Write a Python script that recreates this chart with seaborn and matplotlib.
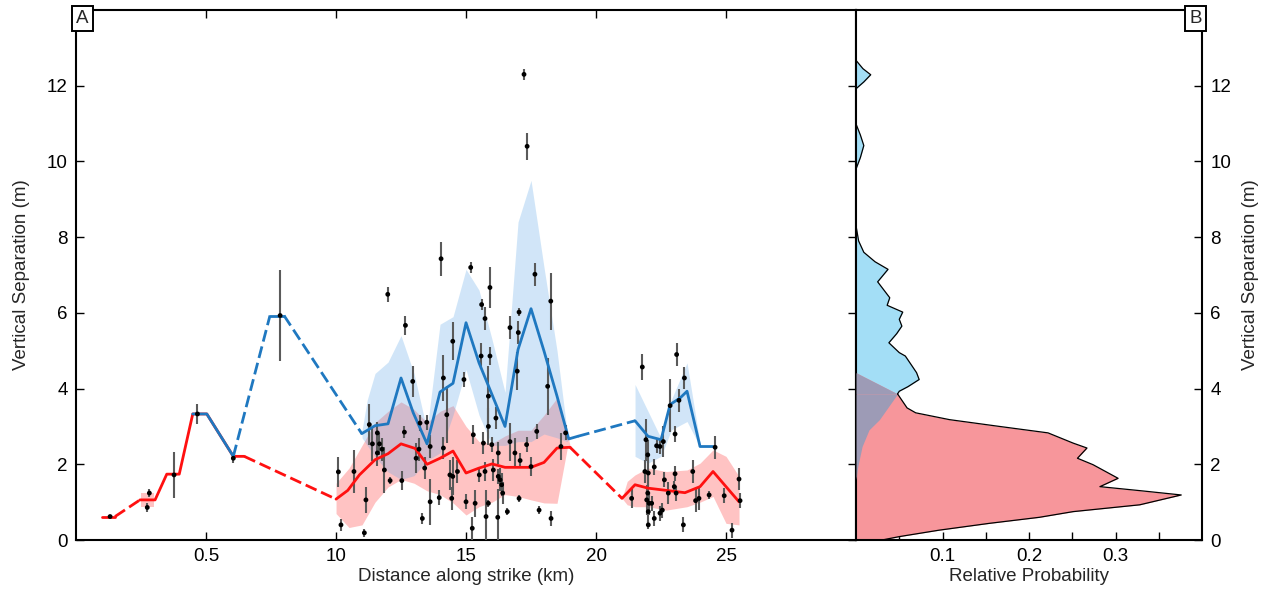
import numpy as np
import matplotlib
matplotlib.use("Agg")
import matplotlib.pyplot as plt
import seaborn as sns

# ---------------- panel A data ----------------
# mean vertical separation, red (lower) profile; dashed = interpolated gaps
red_x = [1.0, 1.5, 2.46, 3.04, 3.49, 3.97, 4.49, 5.03, 6.05, 6.47,
         10.0, 10.45, 10.9, 11.5, 12.0, 12.5, 13.04, 13.5, 14.0, 14.5, 15.0,
         15.5, 16.0, 16.5, 17.0, 17.5, 18.0, 18.5, 19.0,
         21.0, 21.5, 22.0, 22.72, 23.42, 24.0, 24.5, 25.0, 25.5]
red_y = [0.62, 0.62, 1.06, 1.06, 1.74, 1.74, 3.33, 3.33, 2.21, 2.21,
         1.08, 1.31, 1.72, 2.12, 2.28, 2.54, 2.42, 2.0, 2.16, 2.35, 1.77,
         1.90, 2.01, 1.92, 1.92, 1.92, 2.05, 2.43, 2.45,
         1.10, 1.46, 1.37, 1.31, 1.25, 1.41, 1.81, 1.41, 1.01]
red_dashed = [1, 9, 28]

# upper (blue) profile
blue_x = [4.49, 5.03, 6.05, 7.46, 8.0, 10.99, 11.5, 12.0, 12.5, 12.97, 13.5,
          14.0, 14.5, 15.0, 15.5, 16.0, 16.5, 17.0, 17.5, 18.0, 18.5, 18.95,
          19.3, 21.5, 22.0, 22.5, 22.85, 23.23, 23.5, 24.0, 24.5]
blue_y = [3.33, 3.33, 2.21, 5.93, 5.93, 2.81, 3.02, 3.07, 4.28, 3.36, 2.54,
          3.91, 4.14, 5.74, 4.68, 3.84, 3.0, 5.03, 6.11, 4.99, 3.8, 2.67,
          2.74, 3.15, 2.74, 2.65, 3.58, 3.75, 3.93, 2.47, 2.47]
blue_dashed = [2, 4, 22]

# uncertainty envelopes
red_band_x = [[2.5, 3.0],
              [10.0, 10.5, 11.0, 11.5, 12.0, 12.5, 13.0, 13.5, 14.0, 14.5, 15.0,
               15.5, 16.0, 16.5, 17.0, 17.5, 18.0, 18.5, 18.9, 19.0],
              [21.0, 21.2, 21.5, 22.0, 22.7, 23.5, 24.0, 24.5, 25.0, 25.5]]
red_band_hi = [[1.25, 1.25],
               [1.5, 1.9, 2.5, 3.1, 3.4, 3.65, 3.45, 3.1, 3.4, 3.55, 3.0,
                2.6, 2.55, 2.75, 2.9, 2.9, 3.3, 3.75, 2.8, 2.5],
               [1.1, 1.55, 1.72, 1.9, 1.81, 1.85, 2.03, 2.38, 2.21, 1.68]]
red_band_lo = [[0.87, 0.87],
               [0.7, 0.33, 0.4, 1.0, 1.4, 1.6, 1.5, 1.3, 1.2, 0.98, 0.66,
                0.88, 1.0, 1.2, 1.15, 1.06, 0.98, 0.97, 2.45, 2.4],
               [1.1, 0.93, 0.88, 0.88, 0.79, 0.88, 1.0, 1.15, 0.44, 0.40]]

blue_band_x = [[11.0, 11.2, 11.5, 12.0, 12.5, 13.0, 13.5, 14.0, 14.5, 15.0,
                15.5, 16.0, 16.5, 17.0, 17.5, 18.0, 18.5, 18.9],
               [21.5, 22.0, 22.5, 22.9, 23.5, 24.0]]
blue_band_hi = [[2.9, 3.7, 4.4, 4.7, 5.4, 4.4, 2.9, 5.7, 5.9, 7.15,
                 6.6, 5.3, 3.9, 8.4, 9.5, 7.2, 5.0, 2.8],
                [4.11, 3.4, 2.69, 3.71, 4.68, 2.56]]
blue_band_lo = [[2.7, 2.5, 2.2, 1.8, 1.6, 1.7, 2.1, 2.3, 3.3, 4.5,
                 3.3, 2.5, 2.5, 2.6, 2.6, 2.8, 2.7, 2.6],
                [2.21, 2.03, 2.21, 2.91, 3.13, 2.47]]

# individual measurements: distance (km), separation (m), 1-sigma (m)
pt_x = [1.31, 2.74, 2.82, 3.77, 4.67, 6.05, 7.85, 10.09, 10.19, 10.69, 11.09,
        11.15, 11.28, 11.40, 11.59, 11.59, 11.67, 11.77, 11.86, 11.99, 12.08,
        12.53, 12.63, 12.67, 12.95, 13.08, 13.19, 13.23, 13.32, 13.41, 13.49,
        13.62, 13.62, 13.97, 14.04, 14.13, 14.13, 14.26, 14.38, 14.45, 14.49,
        14.49, 14.67, 14.92, 15.00, 15.18, 15.24, 15.28, 15.35, 15.51, 15.58,
        15.60, 15.67, 15.73, 15.73, 15.77, 15.86, 15.86, 15.86, 15.92, 15.92,
        15.99, 16.05, 16.15, 16.22, 16.24, 16.24, 16.31, 16.37, 16.41, 16.59,
        16.69, 16.69, 16.88, 16.97, 17.01, 17.04, 17.04, 17.08, 17.23, 17.33,
        17.35, 17.50, 17.65, 17.72, 17.81, 18.14, 18.26, 18.27, 18.65, 18.83,
        21.37, 21.78, 21.88, 21.92, 21.95, 21.99, 21.99, 22.01, 22.01, 22.01,
        22.04, 22.14, 22.24, 22.24, 22.33, 22.46, 22.46, 22.55, 22.59, 22.63,
        22.78, 22.85, 23.01, 23.04, 23.04, 23.08, 23.10, 23.19, 23.36, 23.40,
        23.72, 23.83, 23.96, 24.35, 24.58, 24.93, 25.23, 25.50, 25.54]
pt_y = [0.62, 0.86, 1.24, 1.72, 3.33, 2.16, 5.93, 1.80, 0.40, 1.81, 0.19,
        1.06, 3.05, 2.54, 2.83, 2.30, 2.54, 2.40, 1.85, 6.49, 1.57,
        1.57, 2.85, 5.67, 4.19, 2.16, 2.40, 3.09, 0.57, 1.90, 3.11,
        2.47, 1.01, 1.12, 7.43, 4.28, 2.43, 3.31, 1.72, 1.10, 5.25,
        1.68, 1.81, 4.24, 1.01, 7.20, 0.31, 2.78, 0.97, 1.72, 4.86,
        6.22, 2.56, 5.85, 1.81, 0.62, 3.80, 3.00, 0.97, 6.67, 4.86,
        2.52, 1.85, 3.22, 0.60, 2.30, 1.68, 1.59, 1.46, 1.24, 0.75,
        5.61, 2.60, 2.30, 4.46, 5.48, 6.02, 1.10, 2.10, 12.30, 2.52,
        10.40, 1.94, 7.02, 2.87, 0.79, 4.06, 6.31, 0.57, 2.47, 2.83,
        1.10, 4.57, 1.81, 2.65, 1.06, 2.25, 1.24, 1.77, 0.75, 0.40,
        0.97, 0.97, 1.93, 0.57, 2.49, 2.47, 0.71, 0.79, 2.60, 1.59,
        1.24, 3.55, 1.41, 2.80, 1.75, 1.24, 4.90, 3.69, 0.40, 4.28,
        1.81, 1.04, 1.10, 1.19, 2.45, 1.17, 0.26, 1.61, 1.04]
pt_err = [0.05, 0.12, 0.10, 0.60, 0.27, 0.12, 1.20, 0.40, 0.15, 0.58, 0.10,
          0.35, 0.55, 0.45, 0.30, 0.35, 0.30, 0.30, 0.60, 0.20, 0.10,
          0.25, 0.15, 0.25, 0.40, 0.40, 0.30, 0.20, 0.15, 0.30, 0.20,
          0.30, 0.60, 0.20, 0.45, 0.60, 0.30, 0.75, 0.40, 0.30, 0.50,
          0.50, 0.30, 0.20, 0.20, 0.15, 0.30, 0.25, 0.35, 0.20, 0.35,
          0.15, 0.30, 0.30, 0.25, 0.70, 0.80, 0.50, 0.10, 0.55, 0.25,
          0.20, 0.30, 0.30, 0.75, 0.30, 0.20, 0.30, 0.30, 0.30, 0.10,
          0.30, 0.50, 0.40, 0.50, 0.30, 0.10, 0.10, 0.20, 0.15, 0.20,
          0.35, 0.25, 0.30, 0.20, 0.10, 0.75, 0.75, 0.20, 0.35, 0.20,
          0.25, 0.35, 0.30, 0.55, 0.40, 0.40, 0.50, 0.35, 0.30, 0.10,
          0.30, 0.20, 0.20, 0.20, 0.20, 0.20, 0.20, 0.20, 0.40, 0.20,
          0.30, 0.70, 0.15, 0.20, 0.20, 0.20, 0.30, 0.30, 0.20, 0.30,
          0.30, 0.30, 0.30, 0.10, 0.30, 0.20, 0.20, 0.30, 0.20]

x_ticks = [5, 10, 15, 20, 25]
x_tick_labels = ["0.5", "10", "15", "20", "25"]

# ---------------- panel B data (probability density) ----------------
pdf_blue_y = [1.6, 1.94, 2.47, 2.91, 3.18, 3.86, 3.93, 4.05, 4.24, 4.42, 4.59,
              4.86, 4.95, 5.21, 5.45, 5.65, 5.83, 6.02, 6.2, 6.4, 6.82, 7.15,
              7.35, 7.6, 7.9, 8.3, 9.8, 10.1, 10.42, 10.7, 10.99, 11.92,
              12.1, 12.29, 12.45, 12.67]
pdf_blue_p = [0.0, 0.002, 0.007, 0.015, 0.027, 0.048, 0.050, 0.060, 0.073,
              0.070, 0.065, 0.057, 0.050, 0.038, 0.047, 0.053, 0.050, 0.054,
              0.036, 0.039, 0.025, 0.037, 0.022, 0.009, 0.003, 0.0, 0.0,
              0.005, 0.009, 0.005, 0.0, 0.0, 0.009, 0.017, 0.008, 0.0]
pdf_red_y = [0.0, 0.09, 0.26, 0.44, 0.60, 0.75, 0.93, 1.19, 1.30, 1.41, 1.63,
             1.99, 2.16, 2.43, 2.56, 2.83, 3.0, 3.18, 3.36, 3.49, 3.86, 4.42]
pdf_red_p = [0.030, 0.050, 0.096, 0.154, 0.212, 0.251, 0.328, 0.376, 0.330,
             0.282, 0.303, 0.274, 0.256, 0.267, 0.251, 0.222, 0.166, 0.108,
             0.069, 0.059, 0.048, 0.0]

# ---------------- styling ----------------
sns.set_theme(style="ticks")
plt.rcParams["font.family"] = ["Liberation Sans", "DejaVu Sans"]
FS = 13.5
RED = "#ff1010"
BLUE = "#1f78c0"
DASH = (0, (4.3, 1.8))


def draw_profile(ax, xs, ys, dashed, color):
    run_x, run_y = [xs[0]], [ys[0]]
    for i in range(len(xs) - 1):
        if i in dashed:
            if len(run_x) > 1:
                sns.lineplot(x=run_x, y=run_y, ax=ax, color=color, lw=2,
                             estimator=None, sort=False, zorder=4)
            sns.lineplot(x=xs[i:i + 2], y=ys[i:i + 2], ax=ax, color=color,
                         lw=2, linestyle=DASH, estimator=None, sort=False,
                         zorder=4)
            run_x, run_y = [xs[i + 1]], [ys[i + 1]]
        else:
            run_x.append(xs[i + 1])
            run_y.append(ys[i + 1])
    if len(run_x) > 1:
        sns.lineplot(x=run_x, y=run_y, ax=ax, color=color, lw=2,
                     estimator=None, sort=False, zorder=4)


fig = plt.figure(figsize=(12.65, 5.92), dpi=100)
axA = fig.add_axes([0.0601, 0.0878, 0.6166, 0.8953])
axB = fig.add_axes([0.6767, 0.0878, 0.2735, 0.8953])

# ---- panel A ----
for bx, lo, hi in zip(red_band_x, red_band_lo, red_band_hi):
    axA.fill_between(bx, lo, hi, color="#ff6b6b", alpha=0.4, lw=0, zorder=1)
for bx, lo, hi in zip(blue_band_x, blue_band_lo, blue_band_hi):
    axA.fill_between(bx, lo, hi, color="#5aa5e6", alpha=0.28, lw=0, zorder=2)

axA.errorbar(pt_x, pt_y, yerr=pt_err, fmt="none", ecolor="#5a5a5a",
             elinewidth=1.5, zorder=3)
sns.scatterplot(x=pt_x, y=pt_y, ax=axA, color="black", s=12, marker="o",
                edgecolor="none", zorder=5)

draw_profile(axA, red_x, red_y, red_dashed, RED)
draw_profile(axA, blue_x, blue_y, blue_dashed, BLUE)

axA.set_xlim(0, 30)
axA.set_ylim(0, 14)
axA.set_xticks(x_ticks)
axA.set_xticklabels(x_tick_labels)
axA.set_yticks(range(0, 13, 2))
axA.tick_params(direction="in", top=True, right=True, length=6, width=1,
                labelsize=FS, colors="black", pad=6)
axA.set_xlabel("Distance along strike (km)", fontsize=FS, labelpad=2)
axA.set_ylabel("Vertical Separation (m)", fontsize=FS, labelpad=12)
axA.text(0.0, 1.0, "A", transform=axA.transAxes, ha="left", va="top",
         fontsize=FS, zorder=10,
         bbox=dict(boxstyle="square,pad=0.22", fc="white", ec="black", lw=1.4))

# ---- panel B ----
pby = np.array(pdf_blue_y)
pbp = np.array(pdf_blue_p)
pry = np.array(pdf_red_y)
prp = np.array(pdf_red_p)
axB.fill_betweenx(pby, 0, pbp, color="#a3def6", lw=0, zorder=1)
axB.fill_betweenx(pry, 0, prp, color="#f7969b", lw=0, zorder=2)
low = pby <= 3.86
axB.fill_betweenx(pby[low], 0, pbp[low], color="#9d9bb6", lw=0, zorder=3)
top = pry >= 3.86
axB.fill_betweenx(pry[top], 0, prp[top], color="#9d9bb6", lw=0, zorder=3)
axB.plot(pbp[pby >= 3.86], pby[pby >= 3.86], color="black", lw=0.9, zorder=4)
axB.plot(prp[pry <= 3.86], pry[pry <= 3.86], color="black", lw=0.9, zorder=4)

axB.set_xlim(0, 0.4)
axB.set_ylim(0, 14)
axB.set_xticks([0.1, 0.2, 0.3])
axB.set_xticklabels(["0.1", "0.2", "0.3"])
axB.set_xticks([0.05, 0.15, 0.25, 0.35], minor=True)
axB.set_yticks(range(0, 13, 2))
axB.yaxis.set_label_position("right")
axB.tick_params(axis="y", which="both", direction="in", left=False, right=True,
                labelleft=False, labelright=True, length=6, width=1,
                labelsize=FS, colors="black", pad=6)
axB.tick_params(axis="x", which="both", direction="in", bottom=True, top=False,
                length=6, width=1, labelsize=FS, colors="black", pad=6)
axB.set_xlabel("Relative Probability", fontsize=FS, labelpad=2)
axB.set_ylabel("Vertical Separation (m)", fontsize=FS, labelpad=8)
axB.text(1.0, 1.0, "B", transform=axB.transAxes, ha="right", va="top",
         fontsize=FS, zorder=10,
         bbox=dict(boxstyle="square,pad=0.22", fc="white", ec="black", lw=1.4))

for ax in (axA, axB):
    for sp in ax.spines.values():
        sp.set_visible(True)
        sp.set_color("black")
        sp.set_linewidth(1.5)

fig.savefig("out.png", dpi=100)
